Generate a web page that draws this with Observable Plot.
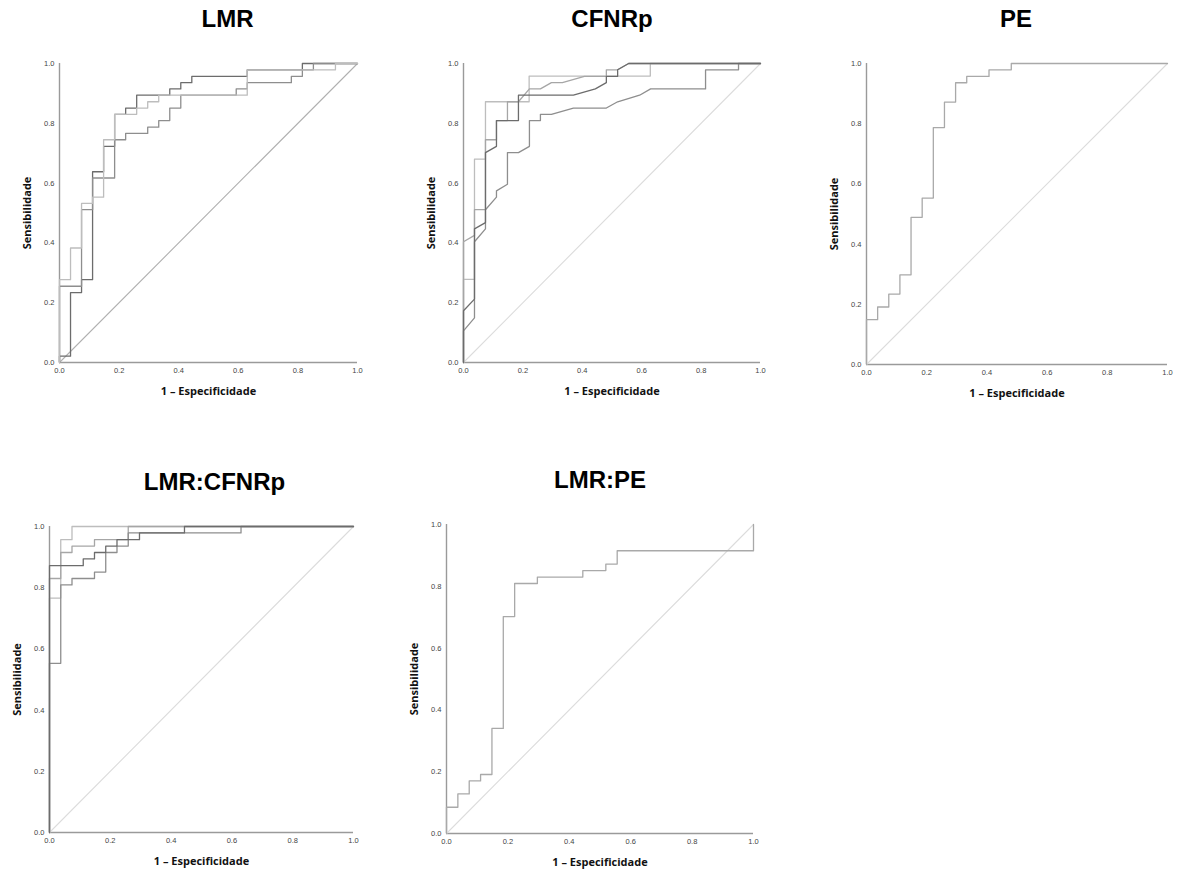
<!DOCTYPE html>
<html><head><meta charset="utf-8">
<script src="https://cdn.jsdelivr.net/npm/d3@7"></script>
<script src="https://cdn.jsdelivr.net/npm/@observablehq/plot@0.6"></script>
<style>
html,body{margin:0;padding:0;background:#fff;}
#root{position:relative;width:1177px;height:872px;overflow:hidden;background:#fff;}
.panel{position:absolute;}
</style></head><body><div id="root"></div>
<script>
// ---------- data ----------
const tickValues = [0, 0.2, 0.4, 0.6, 0.8, 1.0];
const diagonal = [0, 1];
const xLabel = "1 – Especificidade";
const yLabel = "Sensibilidade";
const titles = ["LMR", "CFNRp", "PE", "LMR:CFNRp", "LMR:PE"];

// LMR (step points: end of each horizontal run and its sensitivity)
const lmrDark_fpr  = [0, 0.037, 0.074, 0.111, 0.148, 0.185, 0.222, 0.259, 0.370, 0.407, 0.444, 0.630, 0.815, 1];
const lmrDark_sens = [0, 0.021, 0.234, 0.277, 0.638, 0.723, 0.830, 0.851, 0.894, 0.915, 0.936, 0.957, 0.979, 1];
const lmrMid_fpr   = [0, 0.074, 0.111, 0.185, 0.222, 0.296, 0.333, 0.370, 0.407, 0.593, 0.630, 0.778, 0.815, 0.852, 1];
const lmrMid_sens  = [0, 0.255, 0.511, 0.617, 0.745, 0.766, 0.787, 0.809, 0.851, 0.894, 0.915, 0.936, 0.957, 0.979, 1];
const lmrLight_fpr = [0, 0.037, 0.074, 0.111, 0.148, 0.185, 0.259, 0.296, 0.333, 0.630, 0.926, 1];
const lmrLight_sens= [0, 0.277, 0.383, 0.532, 0.553, 0.745, 0.830, 0.851, 0.872, 0.894, 0.979, 1];

// CFNRp (vertices, with tied steps)
const cfA_fpr  = [0, 0, 0.037, 0.037, 0.074, 0.074, 0.221, 0.221, 0.629, 0.629, 1];
const cfA_sens = [0, 0.278, 0.278, 0.680, 0.680, 0.872, 0.872, 0.958, 0.958, 1, 1];
const cfB_fpr  = [0, 0, 0.037, 0.037, 0.074, 0.074, 0.111, 0.111, 0.185, 0.185, 0.370, 0.444, 0.481, 0.481, 0.519, 0.519, 0.556, 1];
const cfB_sens = [0, 0.173, 0.212, 0.447, 0.468, 0.702, 0.723, 0.809, 0.809, 0.894, 0.894, 0.915, 0.936, 0.957, 0.957, 0.979, 1, 1];
const cfD_fpr  = [0, 0, 0.037, 0.037, 0.074, 0.074, 0.111, 0.111, 0.148, 0.148, 0.185, 0.222, 0.259, 0.296, 0.333, 0.407, 0.481, 0.481, 0.519, 0.556, 1];
const cfD_sens = [0, 0.404, 0.425, 0.511, 0.511, 0.745, 0.745, 0.809, 0.809, 0.872, 0.872, 0.915, 0.915, 0.936, 0.936, 0.957, 0.957, 0.979, 0.979, 1, 1];
const cfC_fpr  = [0, 0, 0.037, 0.037, 0.074, 0.074, 0.111, 0.111, 0.148, 0.148, 0.185, 0.222, 0.222, 0.259, 0.259, 0.296, 0.370, 0.481, 0.519, 0.593, 0.630, 0.815, 0.815, 0.926, 0.926, 1];
const cfC_sens = [0, 0.106, 0.149, 0.404, 0.447, 0.511, 0.553, 0.574, 0.596, 0.702, 0.702, 0.723, 0.809, 0.809, 0.830, 0.830, 0.851, 0.851, 0.872, 0.894, 0.915, 0.915, 0.979, 0.979, 1, 1];

// PE (step points)
const pe_fpr  = [0, 0.037, 0.074, 0.111, 0.148, 0.185, 0.222, 0.259, 0.296, 0.333, 0.407, 0.481, 1];
const pe_sens = [0, 0.149, 0.191, 0.234, 0.298, 0.489, 0.553, 0.787, 0.872, 0.936, 0.957, 0.979, 1];

// LMR:CFNRp (step points)
const lcDark_fpr   = [0, 0.111, 0.148, 0.185, 0.222, 0.296, 0.444, 1];
const lcDark_sens  = [0, 0.872, 0.894, 0.915, 0.936, 0.957, 0.979, 1];
const lcMid_fpr    = [0, 0.037, 0.074, 0.148, 0.185, 0.222, 0.259, 0.630, 1];
const lcMid_sens   = [0, 0.553, 0.809, 0.830, 0.851, 0.915, 0.936, 0.979, 1];
const lcLight1_fpr = [0, 0.037, 0.074, 1];
const lcLight1_sens= [0, 0.766, 0.957, 1];
const lcLight2_fpr = [0, 0.037, 0.074, 0.148, 0.259, 1];
const lcLight2_sens= [0, 0.830, 0.915, 0.936, 0.957, 1];

// LMR:PE (step points)
const lp_fpr  = [0, 0.037, 0.074, 0.111, 0.148, 0.185, 0.222, 0.296, 0.444, 0.519, 0.556, 1, 1];
const lp_sens = [0, 0.085, 0.128, 0.170, 0.191, 0.340, 0.702, 0.809, 0.830, 0.851, 0.872, 0.915, 1];

// ---------- series assembly ----------
const toRows = (fpr, sens) => fpr.map((x, i) => ({x, y: sens[i]}));
const series = [
  {panel: 0, key: "dark",   curve: "step-before", rows: toRows(lmrDark_fpr, lmrDark_sens)},
  {panel: 0, key: "mid",    curve: "step-before", rows: toRows(lmrMid_fpr, lmrMid_sens)},
  {panel: 0, key: "light",  curve: "step-before", rows: toRows(lmrLight_fpr, lmrLight_sens)},
  {panel: 1, key: "light",  curve: "linear", rows: toRows(cfA_fpr, cfA_sens)},
  {panel: 1, key: "light2", curve: "linear", rows: toRows(cfD_fpr, cfD_sens)},
  {panel: 1, key: "mid",    curve: "linear", rows: toRows(cfC_fpr, cfC_sens)},
  {panel: 1, key: "dark",   curve: "linear", rows: toRows(cfB_fpr, cfB_sens)},
  {panel: 2, key: "single", curve: "step-before", rows: toRows(pe_fpr, pe_sens)},
  {panel: 3, key: "light",  curve: "step-before", rows: toRows(lcLight1_fpr, lcLight1_sens)},
  {panel: 3, key: "light2", curve: "step-before", rows: toRows(lcLight2_fpr, lcLight2_sens)},
  {panel: 3, key: "mid",    curve: "step-before", rows: toRows(lcMid_fpr, lcMid_sens)},
  {panel: 3, key: "dark",   curve: "step-before", rows: toRows(lcDark_fpr, lcDark_sens)},
  {panel: 4, key: "single", curve: "step-before", rows: toRows(lp_fpr, lp_sens)}
];

// ---------- styles & layout ----------
const colors = {dark: "#6c6c6c", mid: "#8e8e8e", light: "#bdbdbd", light2: "#a6a6a6", single: "#a9a9a9"};
const layout = [
  {left: 59,  top: 63,  w: 298, h: 299, titleDx: 19,  diag: "#b0b0b0"},
  {left: 463, top: 63,  w: 297, h: 299, titleDx: 0,   diag: "#dcdcdc"},
  {left: 866, top: 63,  w: 301, h: 301, titleDx: -1,  diag: "#dcdcdc"},
  {left: 49,  top: 526, w: 304, h: 306, titleDx: 13,  diag: "#dcdcdc"},
  {left: 446, top: 524, w: 307, h: 309, titleDx: 0,   diag: "#dcdcdc"}
];
const mL = 50, mT = 50, mR = 10, mB = 40;
const root = document.getElementById("root");

layout.forEach((L, p) => {
  const marks = [
    Plot.ruleX([0], {stroke: "#9a9a9a", strokeWidth: 1.4}),
    Plot.ruleY([0], {stroke: "#9a9a9a", strokeWidth: 1.4}),
    Plot.line(diagonal, {x: d => d, y: d => d, stroke: L.diag, strokeWidth: 1.1}),
    ...series.filter(s => s.panel === p).map(s =>
      Plot.line(s.rows, {x: "x", y: "y", curve: s.curve, stroke: colors[s.key], strokeWidth: 1.3})),
    Plot.axisX({ticks: tickValues, tickSize: 0, tickPadding: 5, tickFormat: d3.format(".1f"),
      fontSize: 7.5, fill: "#444", label: null}),
    Plot.axisY({ticks: tickValues, tickSize: 0, tickPadding: 5, tickFormat: d3.format(".1f"),
      fontSize: 7.5, fill: "#444", label: null}),
    Plot.text([titles[p]], {frameAnchor: "top", dy: -44, dx: L.titleDx, text: d => d,
      lineAnchor: "middle", textAnchor: "middle",
      fontSize: 24, fontWeight: "bold", fontFamily: "Liberation Sans", fill: "#000"}),
    Plot.text([xLabel], {frameAnchor: "bottom", dy: 29, text: d => d,
      lineAnchor: "middle", textAnchor: "middle",
      fontSize: 11, fontWeight: "bold", fontFamily: "Open Sans", fill: "#111"}),
    Plot.text([yLabel], {frameAnchor: "left", dx: -32, rotate: -90, text: d => d,
      lineAnchor: "middle", textAnchor: "middle",
      fontSize: 11, fontWeight: "bold", fontFamily: "Open Sans", fill: "#111"})
  ];
  const chart = Plot.plot({
    width: L.w + mL + mR, height: L.h + mT + mB,
    marginLeft: mL, marginTop: mT, marginRight: mR, marginBottom: mB,
    x: {domain: [0, 1]}, y: {domain: [0, 1]},
    style: {fontFamily: "Liberation Sans", background: "transparent", overflow: "visible"},
    marks
  });
  const div = document.createElement("div");
  div.className = "panel";
  div.style.left = (L.left - mL) + "px";
  div.style.top = (L.top - mT) + "px";
  div.appendChild(chart);
  root.appendChild(div);
});
</script></body></html>
